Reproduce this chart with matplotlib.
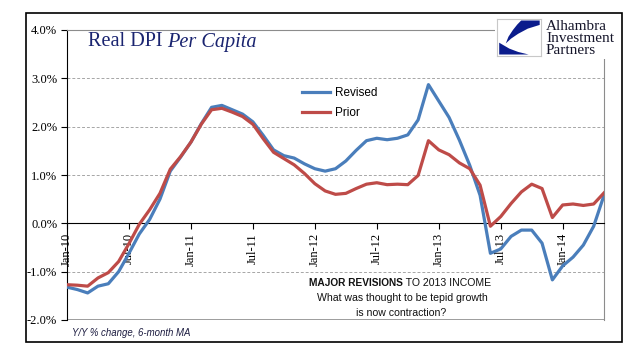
import matplotlib.pyplot as plt
from matplotlib.patches import Rectangle, Polygon

# monthly, Jan-10 .. May-14 (Y/Y % change, 6-month MA)
months = ['Jan-10', 'Feb-10', 'Mar-10', 'Apr-10', 'May-10', 'Jun-10', 'Jul-10', 'Aug-10', 'Sep-10', 'Oct-10', 'Nov-10', 'Dec-10',
          'Jan-11', 'Feb-11', 'Mar-11', 'Apr-11', 'May-11', 'Jun-11', 'Jul-11', 'Aug-11', 'Sep-11', 'Oct-11', 'Nov-11', 'Dec-11',
          'Jan-12', 'Feb-12', 'Mar-12', 'Apr-12', 'May-12', 'Jun-12', 'Jul-12', 'Aug-12', 'Sep-12', 'Oct-12', 'Nov-12', 'Dec-12',
          'Jan-13', 'Feb-13', 'Mar-13', 'Apr-13', 'May-13', 'Jun-13', 'Jul-13', 'Aug-13', 'Sep-13', 'Oct-13', 'Nov-13', 'Dec-13',
          'Jan-14', 'Feb-14', 'Mar-14', 'Apr-14', 'May-14']
revised = [-1.32, -1.37, -1.44, -1.30, -1.25, -1.00, -0.62, -0.22, 0.08, 0.50, 1.08, 1.37,
           1.68, 2.06, 2.40, 2.44, 2.35, 2.26, 2.10, 1.82, 1.52, 1.40, 1.35, 1.23,
           1.13, 1.08, 1.13, 1.29, 1.51, 1.71, 1.76, 1.73, 1.76, 1.83, 2.14, 2.87,
           2.53, 2.19, 1.72, 1.20, 0.58, -0.62, -0.53, -0.27, -0.14, -0.14, -0.41, -1.17,
           -0.88, -0.70, -0.45, -0.06, 0.58]
prior = [-1.27, -1.28, -1.30, -1.13, -1.02, -0.79, -0.42, -0.02, 0.28, 0.62, 1.12, 1.38,
         1.68, 2.05, 2.35, 2.38, 2.30, 2.21, 2.05, 1.75, 1.47, 1.34, 1.21, 1.03,
         0.82, 0.67, 0.60, 0.62, 0.72, 0.81, 0.84, 0.80, 0.81, 0.80, 0.99, 1.71,
         1.52, 1.42, 1.25, 1.13, 0.79, -0.06, 0.14, 0.41, 0.65, 0.81, 0.72, 0.12,
         0.38, 0.40, 0.37, 0.40, 0.63]
tick_months = ['Jan-10', 'Jul-10', 'Jan-11', 'Jul-11', 'Jan-12', 'Jul-12', 'Jan-13', 'Jul-13', 'Jan-14']
yticks = [-2, -1, 0, 1, 2, 3, 4]

W, H = 641, 358
fig = plt.figure(figsize=(W / 100, H / 100), dpi=100)
serif = 'Liberation Serif'
sans = 'Liberation Sans'

# outer frame
fig.patches.append(Rectangle((26 / W, 1 - 342 / H), 596 / W, 329 / H, transform=fig.transFigure,
                             fill=False, edgecolor='black', linewidth=1.2))

ax = fig.add_axes([67 / W, 1 - 320 / H, 537 / W, 290 / H])
x = list(range(len(months)))
ax.plot(x, revised, color='#4a7ebb', linewidth=2.3, solid_joinstyle='round', zorder=3)
ax.plot(x, prior, color='#be4b48', linewidth=2.3, solid_joinstyle='round', zorder=4)
ax.set_xlim(0, len(months) - 1)
ax.set_ylim(-2, 4)

for v in [-1, 1, 2, 3]:
    ax.axhline(v, color='#a6a6a6', linewidth=0.7, linestyle=(0, (3, 2)), zorder=1)

ax.spines['bottom'].set_position(('data', 0))
ax.spines['bottom'].set_color('black')
ax.spines['left'].set_color('black')
ax.spines['top'].set_color('#8c8c8c')
ax.spines['right'].set_color('#8c8c8c')
ax.axhline(-2, color='#8c8c8c', linewidth=1.2, zorder=2)

ax.set_xticks([months.index(m) for m in tick_months])
ax.set_xticklabels(tick_months, rotation=90, family=serif, fontsize=9)
ax.set_yticks(yticks)
ax.set_yticklabels(['%.1f%%' % v for v in yticks], family=serif, fontsize=9)
ax.tick_params(axis='both', direction='out', length=4, width=0.8, pad=3)

# title: upright part, then italic part placed right after it
r = fig.canvas.get_renderer()
t1 = fig.text(88 / W, 1 - 42 / H, 'Real DPI', family=serif, fontsize=14.6, color='#1a2470', va='center')
x1 = t1.get_window_extent(r).x1
fig.text((x1 + 5) / W, 1 - 42 / H, 'Per Capita', family=serif, fontsize=14.6, color='#1a2470',
         style='italic', va='center')

# legend
ax.plot([22.8, 25.5], [2.71, 2.71], color='#4a7ebb', linewidth=2.3, clip_on=False)
ax.plot([22.8, 25.5], [2.30, 2.30], color='#be4b48', linewidth=2.3, clip_on=False)
fig.text(335 / W, 1 - 93 / H, 'Revised', family=sans, fontsize=8.5, va='center')
fig.text(335 / W, 1 - 113 / H, 'Prior', family=sans, fontsize=8.5, va='center')

# annotation
fig.text(403 / W, 1 - 283 / H, 'MAJOR REVISIONS', family=sans, fontsize=7.3, weight='bold',
         ha='right', va='center', color='#111111')
fig.text(403 / W, 1 - 283 / H, ' TO 2013 INCOME', family=sans, fontsize=7.6,
         ha='left', va='center', color='#111111')
fig.text(402 / W, 1 - 298 / H, 'What was thought to be tepid growth', family=sans, fontsize=7.6,
         ha='center', va='center', color='#111111')
fig.text(401 / W, 1 - 313 / H, 'is now contraction?', family=sans, fontsize=7.6,
         ha='center', va='center', color='#111111')

# footnote
fig.text(72 / W, 1 - 333 / H, 'Y/Y % change, 6-month MA', family=sans, fontsize=6.9,
         style='italic', va='center', color='#1c1c40')

# logo: white patch hides the frame corner
fig.patches.append(Rectangle((495 / W, 1 - 59 / H), 124 / W, 44 / H, transform=fig.transFigure,
                             facecolor='white', edgecolor='none', zorder=5))
lax = fig.add_axes([497 / W, 1 - 56 / H, 44 / W, 37 / H], zorder=6)
lax.set_xlim(0, 1)
lax.set_ylim(0, 1)
lax.set_xticks([])
lax.set_yticks([])
for s in lax.spines.values():
    s.set_color('#c8c8c8')
    s.set_linewidth(0.8)
blade = [(0.55, 0.96), (0.97, 0.96), (0.97, 0.84), (0.70, 0.74), (0.48, 0.60), (0.32, 0.47),
         (0.20, 0.34), (0.26, 0.52), (0.36, 0.70), (0.46, 0.85)]
base = [(0.05, 0.36), (0.05, 0.04), (0.72, 0.04), (0.48, 0.11), (0.28, 0.20), (0.15, 0.29)]
lax.add_patch(Polygon(blade, closed=True, facecolor='#0b1c8c', edgecolor='none'))
lax.add_patch(Polygon(base, closed=True, facecolor='#0b1c8c', edgecolor='none'))
for i, word in enumerate(['Alhambra', 'Investment', 'Partners']):
    fig.text(546 / W, 1 - (26 + 12.5 * i) / H, word, family=serif, fontsize=11, va='center',
             color='#15152a', zorder=7)

fig.savefig('out.png', dpi=100)
